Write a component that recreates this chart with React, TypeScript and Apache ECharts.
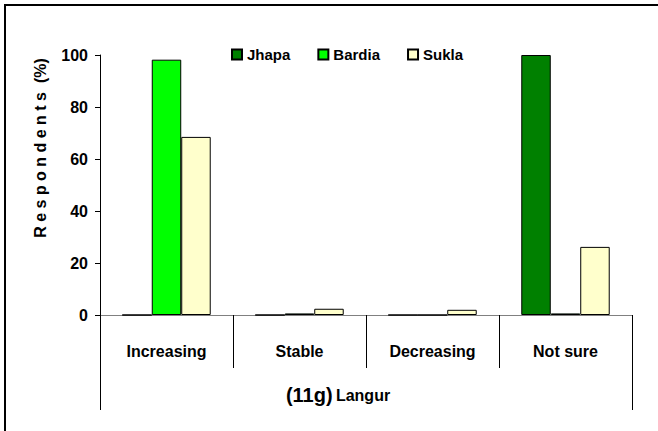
import React, { useEffect, useRef } from "react";
import * as echarts from "echarts";

const categories = ["Increasing", "Stable", "Decreasing", "Not sure"];
const groupLabel = ["(11g) Langur"];
const jhapa = [0, 0, 0, 100];
const bardia = [98.2, 0.6, 0, 0.6];
const sukla = [68.5, 2.4, 2, 26.2];
const seriesNames = ["Jhapa", "Bardia", "Sukla"];
const seriesColors = ["#008000", "#00FF00", "#FFFFCC"];
const yTitle = "R e s p o n d e n t s \u00A0(%)";

const FONT = "Arial, 'Liberation Sans', sans-serif";

export default function App() {
  const ref = useRef<HTMLDivElement>(null);
  useEffect(() => {
    if (!ref.current) return;
    const chart = echarts.init(ref.current, null, { renderer: "svg" });
    const values = [jhapa, bardia, sukla];
    chart.setOption({
      animation: false,
      backgroundColor: "#fff",
      textStyle: { fontFamily: FONT },
      grid: { left: 100, right: 26, top: 55, bottom: 116 },
      legend: {
        left: 231,
        top: 47,
        padding: 0,
        itemWidth: 10,
        itemHeight: 10,
        itemGap: 27,
        icon: "rect",
        textStyle: { fontFamily: FONT, fontWeight: "bold", fontSize: 15, color: "#000" },
        data: seriesNames,
      },
      xAxis: [
        {
          type: "category",
          data: categories,
          axisLine: { lineStyle: { color: "#808080", width: 1 } },
          axisTick: { show: true, length: 53, lineStyle: { color: "#000", width: 1 } },
          axisLabel: { margin: 28, fontFamily: FONT, fontWeight: "bold", fontSize: 16, color: "#000" },
        },
        {
          type: "category",
          data: groupLabel,
          position: "bottom",
          axisLine: { show: false },
          axisTick: { show: true, length: 95, lineStyle: { color: "#000", width: 1 } },
          axisLabel: {
            margin: 70,
            color: "#000",
            padding: [0, 56, 0, 0],
            formatter: () => "{a|(11g)} {b|Langur}",
            rich: {
              a: { fontFamily: FONT, fontWeight: "bold", fontSize: 20, color: "#000" },
              b: { fontFamily: FONT, fontWeight: "bold", fontSize: 16, color: "#000" },
            },
          },
        },
      ],
      yAxis: {
        type: "value",
        min: 0,
        max: 100,
        interval: 20,
        axisLine: { show: true, lineStyle: { color: "#000", width: 1 } },
        axisTick: { show: true, length: 5, lineStyle: { color: "#000" } },
        splitLine: { show: false },
        axisLabel: { margin: 12, fontFamily: FONT, fontWeight: "bold", fontSize: 16, color: "#000" },
      },
      series: seriesNames.map((name, i) => ({
        name,
        type: "bar",
        xAxisIndex: 0,
        data: values[i],
        barGap: "0%",
        barCategoryGap: "33.5%",
        itemStyle: { color: seriesColors[i], borderColor: "#000", borderWidth: 1 },
      })),
      graphic: [
        {
          type: "rect",
          shape: { x: 5, y: 5, width: 900, height: 900 },
          style: { fill: "none", stroke: "#000", lineWidth: 2 },
          silent: true,
        },
        {
          type: "text",
          x: 40,
          y: 148,
          rotation: Math.PI / 2,
          style: {
            text: yTitle,
            fontFamily: FONT,
            fontWeight: "bold",
            fontSize: 16,
            fill: "#000",
            align: "center",
            verticalAlign: "middle",
          },
        },
      ],
    });
    return () => chart.dispose();
  }, []);
  return (
    <div
      ref={ref}
      style={{ position: "fixed", left: 0, top: 0, width: 658, height: 431 }}
    />
  );
}
